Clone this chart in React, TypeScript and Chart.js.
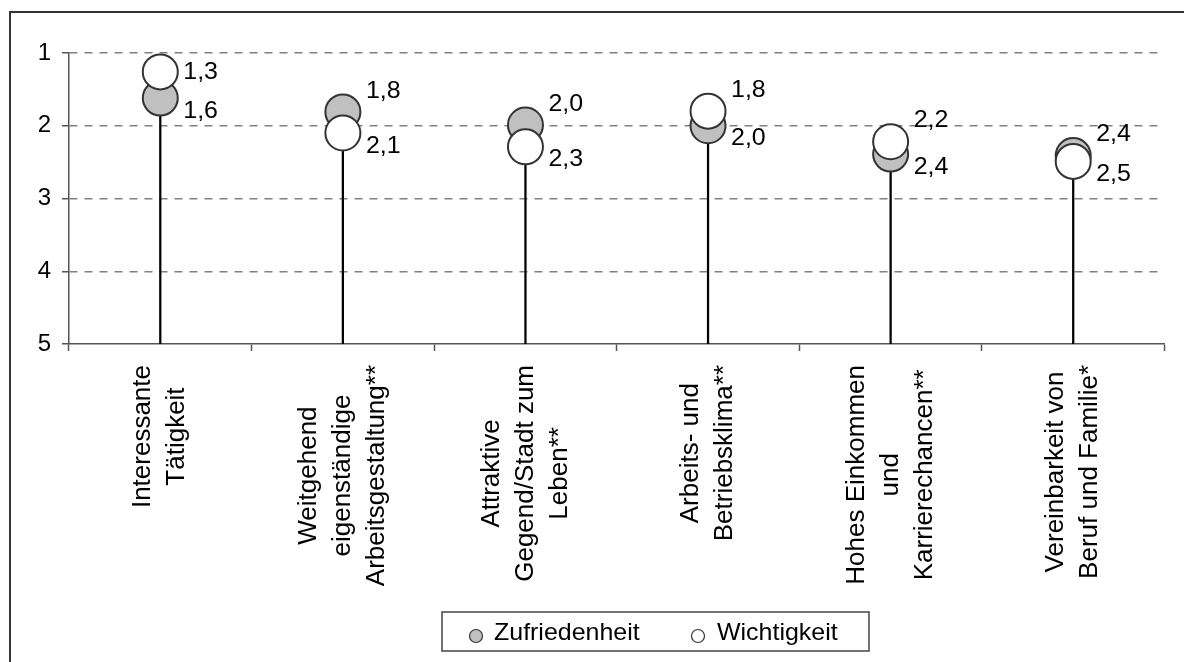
import React, { useEffect, useRef } from "react";
import { Chart, registerables } from "chart.js";

Chart.register(...registerables);

// ---- data ----
const categories: string[][] = [
  ["Interessante", "Tätigkeit"],
  ["Weitgehend", "eigenständige", "Arbeitsgestaltung**"],
  ["Attraktive", "Gegend/Stadt zum", "Leben**"],
  ["Arbeits- und", "Betriebsklima**"],
  ["Hohes Einkommen", "und", "Karrierechancen**"],
  ["Vereinbarkeit von", "Beruf und Familie*"],
];
const zufriedenheit = [1.62, 1.81, 1.99, 2.0, 2.39, 2.41];
const wichtigkeit = [1.26, 2.1, 2.29, 1.8, 2.22, 2.49];
const yTicks = [1, 2, 3, 4, 5];
const seriesNames = ["Zufriedenheit", "Wichtigkeit"];

const FONT = '"Liberation Sans", Arial, sans-serif';
const GREY = "#c0c0c0";
const EDGE = "#333333";
const fmt = (v: number) => v.toFixed(1).replace(".", ",");

function scaledText(ctx: CanvasRenderingContext2D, text: string, x: number, y: number, sx = 1.04) {
  ctx.save();
  ctx.translate(x, y);
  ctx.scale(sx, 1);
  ctx.textAlign = "left";
  ctx.textBaseline = "middle";
  ctx.fillText(text, 0, 0);
  ctx.restore();
}

const decorPlugin = {
  id: "decor",
  afterDraw(chart: any) {
    const ctx: CanvasRenderingContext2D = chart.ctx;
    const area = chart.chartArea;
    const xs = chart.scales.x;

    // outer frame
    ctx.save();
    ctx.strokeStyle = EDGE;
    ctx.lineWidth = 2;
    ctx.strokeRect(10, 12, 1200, 700);
    ctx.restore();

    // category labels (rotated, centred lines, block anchored near axis)
    ctx.save();
    ctx.font = `26px ${FONT}`;
    ctx.fillStyle = "#000";
    categories.forEach((lines, i) => {
      const cx = xs.getPixelForValue(i);
      const maxW = Math.max(...lines.map((l) => ctx.measureText(l).width));
      const midY = area.bottom + 21 + maxW / 2;
      ctx.save();
      ctx.translate(cx, midY);
      ctx.rotate(-Math.PI / 2);
      ctx.textAlign = "center";
      ctx.textBaseline = "middle";
      lines.forEach((l, j) => ctx.fillText(l, 0, (j - (lines.length - 1) / 2) * 34));
      ctx.restore();
    });
    ctx.restore();

    // data labels
    ctx.save();
    ctx.font = `24px ${FONT}`;
    ctx.fillStyle = "#000";
    const mz = chart.getDatasetMeta(1).data;
    const mw = chart.getDatasetMeta(2).data;
    categories.forEach((_, i) => {
      const pz = mz[i];
      const pw = mw[i];
      const zUpper = pz.y < pw.y;
      const up = zUpper ? pz : pw;
      const lo = zUpper ? pw : pz;
      const upVal = zUpper ? zufriedenheit[i] : wichtigkeit[i];
      const loVal = zUpper ? wichtigkeit[i] : zufriedenheit[i];
      const upY = Math.max(up.y - 21, area.top + 19);
      const loY = lo.y + 13;
      scaledText(ctx, fmt(upVal), up.x + 23, upY);
      scaledText(ctx, fmt(loVal), lo.x + 23, loY);
    });
    ctx.restore();

    // legend
    ctx.save();
    ctx.strokeStyle = "#444";
    ctx.lineWidth = 1.5;
    ctx.strokeRect(442, 612, 427, 39);
    ctx.font = `24px ${FONT}`;
    ctx.fillStyle = "#000";
    const items = [
      { name: seriesNames[0], fill: GREY, mx: 476, tx: 494 },
      { name: seriesNames[1], fill: "#ffffff", mx: 698, tx: 717 },
    ];
    items.forEach((it) => {
      ctx.beginPath();
      ctx.arc(it.mx, 636, 6.5, 0, Math.PI * 2);
      ctx.fillStyle = it.fill;
      ctx.fill();
      ctx.strokeStyle = EDGE;
      ctx.lineWidth = 1.2;
      ctx.stroke();
      ctx.fillStyle = "#000";
      scaledText(ctx, it.name, it.tx, 633);
    });
    ctx.restore();
  },
};

export default function App() {
  const ref = useRef<HTMLCanvasElement | null>(null);

  useEffect(() => {
    if (!ref.current) return;
    const chart = new Chart(ref.current, {
      data: {
        labels: categories.map((c) => c.join(" ")),
        datasets: [
          {
            type: "bar",
            label: "stems",
            data: categories.map((_, i) => [Math.max(zufriedenheit[i], wichtigkeit[i]), 5]) as any,
            backgroundColor: "#000",
            barThickness: 1.6,
            order: 3,
          },
          {
            type: "line",
            label: seriesNames[0],
            data: zufriedenheit,
            showLine: false,
            pointRadius: 17.5,
            pointHoverRadius: 17.5,
            pointBorderWidth: 2,
            pointBorderColor: EDGE,
            pointBackgroundColor: GREY,
            clip: false as any,
            order: 2,
          },
          {
            type: "line",
            label: seriesNames[1],
            data: wichtigkeit,
            showLine: false,
            pointRadius: 17.5,
            pointHoverRadius: 17.5,
            pointBorderWidth: 2,
            pointBorderColor: EDGE,
            pointBackgroundColor: "#ffffff",
            clip: false as any,
            order: 1,
          },
        ] as any,
      },
      options: {
        animation: false,
        responsive: false,
        events: [],
        layout: { padding: { left: 0, right: 11, top: 53, bottom: 0 } },
        plugins: { legend: { display: false }, tooltip: { enabled: false } },
        scales: {
          x: {
            type: "category",
            offset: true,
            grid: {
              offset: true,
              drawOnChartArea: false,
              drawTicks: true,
              tickLength: 7,
              tickColor: "#555",
              tickWidth: 1.5,
            },
            border: { display: true, color: "#555", width: 1.5 },
            ticks: { display: false },
            afterFit: (s: any) => {
              s.height = 662 - 344;
            },
          },
          y: {
            type: "linear",
            reverse: true,
            min: 1,
            max: 5,
            afterBuildTicks: (s: any) => {
              s.ticks = yTicks.map((v) => ({ value: v }));
            },
            ticks: {
              color: "#000",
              font: { family: FONT, size: 24 },
              padding: 11,
              callback: (v: any) => String(v),
            },
            grid: {
              color: (c: any) => (c.tick && c.tick.value === 5 ? "rgba(0,0,0,0)" : "#808080"),
              lineWidth: 1.5,
              tickLength: 7,
              tickColor: "#555",
              tickWidth: 1.5,
              tickBorderDash: [],
            },
            border: { display: true, color: "#555", width: 1.5, dash: [8, 7] },
            afterFit: (s: any) => {
              s.width = 69;
            },
          },
        },
      } as any,
      plugins: [decorPlugin],
    });
    return () => chart.destroy();
  }, []);

  return (
    <div style={{ position: "fixed", left: 0, top: 0, width: 1184, height: 662, background: "#fff" }}>
      <canvas ref={ref} width={1184} height={662} style={{ display: "block" }} />
    </div>
  );
}
